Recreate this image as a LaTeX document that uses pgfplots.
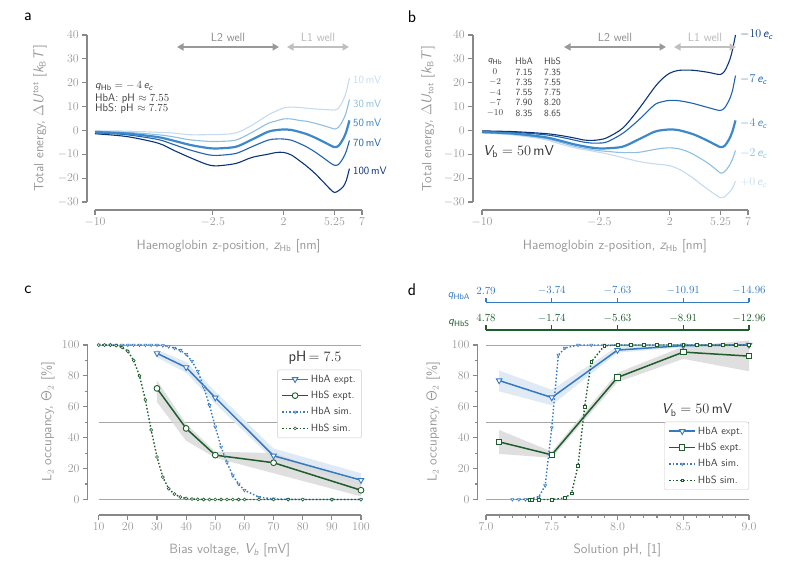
\documentclass[border=0pt]{standalone}
\usepackage{pgfplots}
\pgfplotsset{compat=1.18}
\usepackage{sansmath}
\usetikzlibrary{arrows.meta}
\renewcommand{\familydefault}{\sfdefault}
\DeclareMathAlphabet{\mathsfit}{OT1}{cmss}{m}{sl}
\newcommand{\sv}[1]{\mathsfit{#1}}
\newcommand{\su}[1]{\mathsf{#1}}
\newcommand{\labfont}{\fontsize{13.5}{15}\selectfont}

\definecolor{cA}{HTML}{3579C1}
\definecolor{cS}{HTML}{1D5E2C}
\definecolor{b1}{HTML}{C6DBEF}
\definecolor{b2}{HTML}{8DBFE2}
\definecolor{b3}{HTML}{3C88C8}
\definecolor{b4}{HTML}{1F62AD}
\definecolor{b5}{HTML}{0B3478}
\definecolor{axg}{HTML}{888888}
\definecolor{txg}{HTML}{999999}
\definecolor{dk}{HTML}{333333}

\tikzset{spine/.style={axg, line width=1.2bp}}
\pgfplotsset{
  base/.style={scale only axis, anchor=south west, clip=false,
    axis lines=left, axis line style={draw=none},
    tick style={axg, line width=1.2bp}, tick align=outside,
    major tick length=4.7bp, minor tick length=2.8bp,
    xticklabel={$\mathsf{\pgfmathprintnumber{\tick}}$},
    yticklabel={$\mathsf{\pgfmathprintnumber{\tick}}$},
    ticklabel style={font=\fontsize{12}{13}\selectfont, text=txg},
    xlabel style={font=\labfont, text=txg, anchor=center},
    ylabel style={font=\labfont, text=txg, anchor=center},
  },
  occ/.style={base, ymin=-10.03, ymax=100, ytick={0,20,...,100}, minor y tick num=1,
    height=170bp,
    ylabel={L$_2$ occupancy, $\su{\Theta}_{\su{2}}$ [\%]},
    legend style={draw=black!20, rounded corners=2pt, fill=white,
      font=\fontsize{10.5}{12}\selectfont, text=black!75,
      inner xsep=4bp, inner ysep=3bp, row sep=3.5bp, cells={anchor=west}},
    legend image code/.code={\draw[mark repeat=2,mark phase=2,##1]
      plot coordinates {(0bp,0bp)(13bp,0bp)(26bp,0bp)};},
  },
  expA/.style={cA, line width=1.5bp, mark=triangle*, mark size=3.2bp,
    mark options={rotate=180, fill=white, solid, line width=0.9bp}},
  expS/.style={cS, line width=1.5bp, mark size=2.9bp,
    mark options={fill=white, solid, line width=0.9bp}},
  simA/.style={cA, line width=1.4bp, dash pattern=on 1.5bp off 2bp,
    mark=triangle*, mark size=1.7bp,
    mark options={rotate=180, fill=white, solid, line width=0.6bp}},
  simS/.style={cS, line width=1.4bp, dash pattern=on 1.5bp off 2bp,
    mark size=1.5bp, mark options={fill=white, solid, line width=0.6bp}},
  qax/.style={scale only axis, anchor=south west, width=263bp, height=1bp,
    xmin=7, xmax=9, ymin=0, ymax=1, axis x line=top, axis y line=none,
    axis line style={-, #1, line width=1.2bp}, tick style={#1, line width=1.2bp},
    tick align=outside, major tick length=4.5bp, xtick={7,7.5,8,8.5,9},
    ticklabel style={font=\fontsize{11}{12}\selectfont, text=#1}},
}

\begin{document}
\sansmath
\begin{tikzpicture}[x=1bp, y=1bp]
\useasboundingbox (0,0) rectangle (798,587);

% ---------------- panel a
\begin{axis}[base, at={(87bp,377bp)}, width=275bp, height=175bp,
  xmin=-10.51, xmax=7, ymin=-33.35, ymax=40,
  xtick={-10,-2.5,2,5.25,7},
  xticklabels={$\su{-10}$,$\su{-2.5}$,$\su{2}$,$\su{5.25}$,$\su{7}$},
  ytick={-30,-20,...,40},
  xlabel={Haemoglobin z-position, $\sv{z}_{\su{Hb}}$ [nm]},
  ylabel={Total energy, $\Delta\sv{U}^{\su{tot}}$ [$\sv{k}_{\su{B}}\sv{T}$]},
  xlabel style={at={(axis description cs:0.515,-0.206)}},
  ylabel style={at={(axis description cs:-0.171,0.523)}},
]
\draw[spine] (axis cs:-10.51,-30) -- (axis cs:-10.51,40);
\draw[spine] (axis cs:-10,-33.35) -- (axis cs:7,-33.35);
\addplot[b1, line width=1.1bp, smooth] coordinates {(-10,-0.14)(-8,-0.3)(-6,-0.8)(-5,-1.1)(-4,-1.8)(-3,-1.8)(-2.5,-1.75)(-2,-1.7)(-1,-1.0)(0,2.2)(1,6.4)(1.5,8.0)(2,9.4)(2.5,9.8)(3,9.6)(3.5,9.3)(4,9.0)(4.5,8.8)(5,8.6)(5.25,8.5)(5.5,9.3)(5.8,12.6)(6.0,16.2)(6.2,22.0)};
\addplot[b2, line width=1.1bp, smooth] coordinates {(-10,-0.42)(-8,-0.8)(-6,-1.8)(-5,-2.7)(-4,-3.9)(-3,-4.5)(-2.5,-4.65)(-2,-4.6)(-1,-4.0)(0,-0.8)(1,2.9)(1.5,3.9)(2,4.8)(2.5,4.8)(3,4.2)(3.5,3.8)(4,3.0)(4.5,2.1)(5,1.1)(5.25,0.6)(5.5,1.3)(5.8,4.4)(6.0,7.7)(6.2,13.0)};
\addplot[b4, line width=1.1bp, smooth] coordinates {(-10,-0.98)(-8,-1.8)(-6,-3.8)(-5,-5.9)(-4,-8.1)(-3,-9.9)(-2.5,-10.45)(-2,-10.4)(-1,-9.6)(0,-6.8)(1,-4.1)(1.5,-3.6)(2,-3.6)(2.5,-4.1)(3,-5.4)(3.5,-7.0)(4,-9.0)(4.5,-11.3)(5,-13.7)(5.25,-14.6)(5.5,-14.3)(5.8,-11.6)(6.0,-8.7)(6.2,-4.2)};
\addplot[b5, line width=1.1bp, smooth] coordinates {(-10,-1.4)(-8,-2.55)(-6,-5.3)(-5,-8.3)(-4,-11.25)(-3,-13.95)(-2.5,-14.8)(-2,-14.75)(-1,-13.8)(0,-11.3)(1,-10.0)(1.5,-9.3)(2,-9.2)(2.5,-10.3)(3,-12.6)(3.5,-15.1)(4,-18.0)(4.5,-21.35)(5,-24.8)(5.25,-26.0)(5.5,-25.3)(5.8,-23.6)(6.0,-21.0)(6.2,-16.0)};
\addplot[b3, line width=2.2bp, smooth] coordinates {(-10,-0.7)(-8,-1.3)(-6,-2.8)(-5,-4.3)(-4,-6.0)(-3,-7.2)(-2.5,-7.55)(-2,-7.5)(-1,-6.8)(0,-3.8)(1,-0.6)(1.5,0.1)(2,0.4)(2.5,0.2)(3,-0.6)(3.5,-1.6)(4,-3.0)(4.5,-4.6)(5,-6.3)(5.25,-7.0)(5.5,-6.5)(5.8,-3.6)(6.0,-0.5)(6.2,4.2)};
\end{axis}

% ---------------- panel b
\begin{axis}[base, at={(473bp,377bp)}, width=275bp, height=175bp,
  xmin=-10.575, xmax=7, ymin=-33.35, ymax=40,
  xtick={-10,-2.5,2,5.25,7},
  xticklabels={$\su{-10}$,$\su{-2.5}$,$\su{2}$,$\su{5.25}$,$\su{7}$},
  ytick={-30,-20,...,40},
  xlabel={Haemoglobin z-position, $\sv{z}_{\su{Hb}}$ [nm]},
  ylabel={Total energy, $\Delta\sv{U}_{\su{tot}}$ [$\sv{k}_{\su{B}}\sv{T}$]},
  xlabel style={at={(axis description cs:0.516,-0.206)}},
  ylabel style={at={(axis description cs:-0.164,0.523)}},
]
\draw[spine] (axis cs:-10.575,-30) -- (axis cs:-10.575,40);
\draw[spine] (axis cs:-10,-33.35) -- (axis cs:7,-33.35);
\addplot[b1, line width=1.1bp, smooth] coordinates {(-10,-1.1)(-8,-1.9)(-6,-3.8)(-5,-5.7)(-4,-7.4)(-3,-8.6)(-2.5,-9.2)(-2,-9.8)(-1,-11.4)(0,-13.0)(1,-14.0)(1.5,-14.3)(2,-14.8)(2.5,-16.0)(3,-17.8)(3.5,-20.0)(4,-22.6)(4.5,-25.0)(5,-27.3)(5.25,-28.2)(5.5,-27.8)(5.8,-26.0)(6.0,-24.2)(6.2,-21.3)};
\addplot[b2, line width=1.1bp, smooth] coordinates {(-10,-0.9)(-8,-1.6)(-6,-3.3)(-5,-5.0)(-4,-6.8)(-3,-8.0)(-2.5,-8.5)(-2,-8.8)(-1,-9.3)(0,-9.2)(1,-8.0)(1.5,-7.5)(2,-7.3)(2.5,-7.6)(3,-8.5)(3.5,-10.0)(4,-11.9)(4.5,-14.0)(5,-16.6)(5.25,-17.9)(5.5,-17.3)(5.8,-14.8)(6.0,-12.2)(6.2,-8.4)};
\addplot[b4, line width=1.1bp, smooth] coordinates {(-10,-0.4)(-8,-0.8)(-6,-1.8)(-5,-2.8)(-4,-4.2)(-3.5,-4.9)(-3,-5.3)(-2.5,-5.3)(-2,-4.8)(-1,-1.2)(0,4.3)(1,10.6)(1.5,12.0)(2,12.6)(2.5,12.5)(3,12.0)(3.5,11.3)(4,10.4)(4.5,9.5)(5,8.6)(5.25,8.4)(5.5,9.4)(5.8,12.8)(6.0,16.5)(6.2,23.0)};
\addplot[b5, line width=1.1bp, smooth] coordinates {(-10,-0.2)(-8,-0.5)(-6,-1.3)(-5,-2.1)(-4,-3.3)(-3.5,-4.0)(-3,-4.2)(-2.5,-3.9)(-2,-3.0)(-1,1.0)(0,8.8)(1,17.8)(1.5,21.5)(2,24.0)(2.5,25.1)(3,25.3)(3.5,25.2)(4,24.8)(4.5,24.3)(5,23.6)(5.25,23.5)(5.5,24.8)(5.8,29.0)(6.0,33.5)(6.2,40.0)};
\addplot[b3, line width=2.2bp, smooth] coordinates {(-10,-0.7)(-8,-1.3)(-6,-2.8)(-5,-4.3)(-4,-6.0)(-3,-7.2)(-2.5,-7.55)(-2,-7.5)(-1,-6.8)(0,-3.8)(1,-0.6)(1.5,0.1)(2,0.4)(2.5,0.2)(3,-0.6)(3.5,-1.6)(4,-3.0)(4.5,-4.6)(5,-6.3)(5.25,-7.0)(5.5,-6.5)(5.8,-3.6)(6.0,-0.5)(6.2,4.2)};
\end{axis}

% ---------------- panel c
\begin{axis}[occ, at={(87.7bp,72bp)}, width=273.3bp,
  xmin=6.226, xmax=100, xtick={10,20,...,100},
  xlabel={Bias voltage, $\sv{V}_{\sv{b}}$ [mV]},
  xlabel style={at={(axis description cs:0.52,-0.206)}},
  ylabel style={at={(axis description cs:-0.145,0.547)}},
  legend style={at={(axis cs:100.3,84)}, anchor=north east},
]
\draw[spine] (axis cs:6.226,0) -- (axis cs:6.226,100);
\draw[spine] (axis cs:10,-10.03) -- (axis cs:100,-10.03);
\draw[black!35, line width=0.8bp] (axis cs:10,0) -- (axis cs:100,0)
  (axis cs:10,50) -- (axis cs:100,50) (axis cs:10,100) -- (axis cs:100,100);
\addplot[forget plot, draw=none, fill=cA!16] coordinates {(30,97)(40,89)(50,70)(70,33)(100,17)(100,9.5)(70,25.5)(50,62)(40,82)(30,92)} -- cycle;
\addplot[forget plot, draw=none, fill=black!15, fill opacity=0.85] coordinates {(30,77)(40,49)(50,31)(70,30)(100,11)(100,2)(70,17)(50,27)(40,38)(30,63)} -- cycle;
\addplot[expA] coordinates {(30,94.6)(40,85.5)(50,65.9)(70,28.3)(100,12.5)};
\addlegendentry{HbA expt.}
\addplot[expS, mark=*] coordinates {(30,71.9)(40,46)(50,28.7)(70,23.8)(100,6.0)};
\addlegendentry{HbS expt.}
\addplot[simA] coordinates {(10,100)(12,100)(14,100)(16,100)(18,100)(20,100)(22,100)(24,100)(26,100)(28,100)(30,100)(32,99.6)(34,99)(36,98)(38,96.5)(40,94)(42,89.5)(44,83)(46,73)(48,61)(50,47)(52,34)(54,24)(56,15.5)(58,10)(60,6)(65,1.5)(70,0.4)(75,0.1)(80,0)(90,0)(100,0)};
\addlegendentry{HbA sim.}
\addplot[simS, mark=*] coordinates {(10,100)(12,100)(14,100)(16,99.6)(18,98.5)(20,96)(22,90)(24,80)(26,64.5)(28,45)(30,27.5)(32,14.5)(34,7)(36,3.5)(38,1.6)(40,0.7)(42,0.3)(44,0.1)(46,0)(48,0)(50,0)(52,0)(54,0)(56,0)(58,0)(60,0)(65,0)(70,0)(75,0)(80,0)(90,0)(100,0)};
\addlegendentry{HbS sim.}
\end{axis}

% ---------------- panel d
\begin{axis}[occ, at={(477.7bp,72bp)}, width=271.3bp,
  xmin=6.9369, xmax=9, xtick={7,7.5,8,8.5,9},
  xticklabels={$\su{7.0}$,$\su{7.5}$,$\su{8.0}$,$\su{8.5}$,$\su{9.0}$}, minor x tick num=4,
  xlabel={Solution pH, [1]},
  xlabel style={at={(axis description cs:0.515,-0.206)}},
  ylabel style={at={(axis description cs:-0.164,0.547)}},
  legend style={at={(axis cs:9.0,50.4)}, anchor=north east},
]
\draw[spine] (axis cs:6.9369,0) -- (axis cs:6.9369,100);
\draw[spine] (axis cs:7,-10.03) -- (axis cs:9,-10.03);
\draw[black!35, line width=0.8bp] (axis cs:7,0) -- (axis cs:9,0)
  (axis cs:7,50) -- (axis cs:9,50) (axis cs:7,100) -- (axis cs:9,100);
\addplot[forget plot, draw=none, fill=cA!16] coordinates {(7.1,83.5)(7.5,71)(8.0,99)(8.5,100.5)(9.0,100.5)(9.0,99.5)(8.5,98.5)(8.0,95)(7.5,61)(7.1,70)} -- cycle;
\addplot[forget plot, draw=none, fill=black!15, fill opacity=0.85] coordinates {(7.1,45)(7.5,31)(8.0,82)(8.5,99)(9.0,103)(9.0,83)(8.5,91)(8.0,76)(7.5,27)(7.1,29.5)} -- cycle;
\addplot[expA] coordinates {(7.1,77)(7.5,66)(8.0,96.7)(8.5,99.6)(9.0,100)};
\addlegendentry{HbA expt.}
\addplot[expS, mark=square*, mark size=2.7bp] coordinates {(7.1,37.3)(7.5,28.9)(8.0,79)(8.5,95.4)(9.0,92.8)};
\addlegendentry{HbS expt.}
\addplot[simA] coordinates {(7.2,0)(7.25,0)(7.3,0)(7.4,1.5)(7.45,9)(7.5,46.5)(7.55,93.5)(7.6,98)(7.7,100)(7.8,100)(7.9,100)(8.0,100)(8.1,100)(8.2,100)(8.3,100)(8.4,100)(8.5,100)(8.6,100)(8.7,100)(8.8,100)(8.9,100)(9.0,100)};
\addlegendentry{HbA sim.}
\addplot[simS, mark=square*, mark size=1.4bp] coordinates {(7.33,0)(7.35,0)(7.4,0)(7.5,0)(7.6,1)(7.65,4)(7.7,22)(7.75,60)(7.8,89)(7.9,99.5)(8.0,100)(8.1,100)(8.2,100)(8.3,100)(8.4,100)(8.5,100)(8.6,100)(8.7,100)(8.8,100)(8.9,100)(9.0,100)};
\addlegendentry{HbS sim.}
\end{axis}

% top charge axes of panel d
\begin{axis}[qax=cA, at={(486bp,283.7bp)},
  xticklabels={$\su{2.79}$,$\su{-3.74}$,$\su{-7.63}$,$\su{-10.91}$,$\su{-14.96}$}]
\end{axis}
\begin{axis}[qax=cS, at={(486bp,256bp)},
  xticklabels={$\su{4.78}$,$\su{-1.74}$,$\su{-5.63}$,$\su{-8.91}$,$\su{-12.96}$}]
\end{axis}
\node[cA, font=\fontsize{11}{12}\selectfont] at (459,291) {$\sv{q}_{\su{HbA}}$};
\node[cS, font=\fontsize{11}{12}\selectfont] at (459,263.5) {$\sv{q}_{\su{HbS}}$};

% ---------------- annotations
\foreach \x in {0,387}{
  \draw[black!40, line width=1.6bp, {Triangle[length=6.5bp,width=7bp]}-{Triangle[length=6.5bp,width=7bp]}] (177+\x,540) -- (279+\x,540);
  \draw[black!25, line width=1.6bp, {Triangle[length=6.5bp,width=7bp]}-{Triangle[length=6.5bp,width=7bp]}] (287+\x,540) -- (349+\x,540);
}
\begin{scope}[every node/.style={font=\fontsize{12}{14}\selectfont}]
\node[black!45] at (228,549.5) {L2 well};
\node[black!28] at (318,549.5) {L1 well};
\node[black!45] at (615,549.5) {L2 well};
\node[black!28] at (705,549.5) {L1 well};
\end{scope}

\begin{scope}[every node/.style={anchor=west, inner sep=0pt, font=\fontsize{11}{12}\selectfont, text=black!75}]
\node at (95,500.5) {$\sv{q}_{\su{Hb}} = -\,\su{4}\,\sv{e}_{\sv{c}}$};
\node at (95,488.7) {HbA: pH $\approx \su{7.55}$};
\node at (95,478) {HbS: pH $\approx \su{7.75}$};
\end{scope}

\begin{scope}[every node/.style={anchor=west, inner sep=0pt, font=\fontsize{11}{13}\selectfont}]
\node[b1] at (353,507) {10\,mV};
\node[b2] at (353,483) {30\,mV};
\node[b3] at (353,464) {50\,mV};
\node[b4] at (353,444) {70\,mV};
\node[b5] at (353,416) {100\,mV};
\end{scope}
\begin{scope}[every node/.style={anchor=west, inner sep=0pt, font=\fontsize{12}{14}\selectfont}]
\node[b5] at (740,552) {$-\su{10}\,\sv{e}_{\sv{c}}$};
\node[b4] at (740,507) {$-\su{7}\,\sv{e}_{\sv{c}}$};
\node[b3] at (740,463) {$-\su{4}\,\sv{e}_{\sv{c}}$};
\node[b2] at (740,433) {$-\su{2}\,\sv{e}_{\sv{c}}$};
\node[b1] at (740,404) {$+\su{0}\,\sv{e}_{\sv{c}}$};
\end{scope}

\begin{scope}[every node/.style={inner sep=0pt, font=\fontsize{9.5}{11}\selectfont, text=black!75}]
\node at (495,525.3) {$\sv{q}_{\su{Hb}}$};
\node at (524,525.3) {HbA};
\node at (552.5,525.3) {HbS};
\foreach \i/\q/\a/\s in {1/$\su{0}$/7.15/7.35, 2/$-\su{2}$/7.35/7.55, 3/$-\su{4}$/7.55/7.75, 4/$-\su{7}$/7.90/8.20, 5/$-\su{10}$/8.35/8.65}{
  \node at (495,525.3-10.3*\i) {\q};
  \node at (524,525.3-10.3*\i) {\a};
  \node at (552.5,525.3-10.3*\i) {\s};
}
\end{scope}

\node[anchor=west, inner sep=0pt, text=dk, font=\fontsize{14}{16}\selectfont] at (483,435.3) {$\sv{V}_{\su{b}} = \su{50}\,\su{mV}$};
\node[text=dk, font=\fontsize{15}{17}\selectfont] at (315,229) {pH$\,= \su{7.5}$};
\node[text=dk, font=\fontsize{14.5}{17}\selectfont] at (697,177) {$\sv{V}_{\su{b}} = \su{50}\,\su{mV}$};

\begin{scope}[every node/.style={font=\fontsize{17}{19}\selectfont}]
\node at (28,570) {a};
\node at (412,570) {b};
\node at (28,297) {c};
\node at (412,297) {d};
\end{scope}
\end{tikzpicture}
\end{document}
